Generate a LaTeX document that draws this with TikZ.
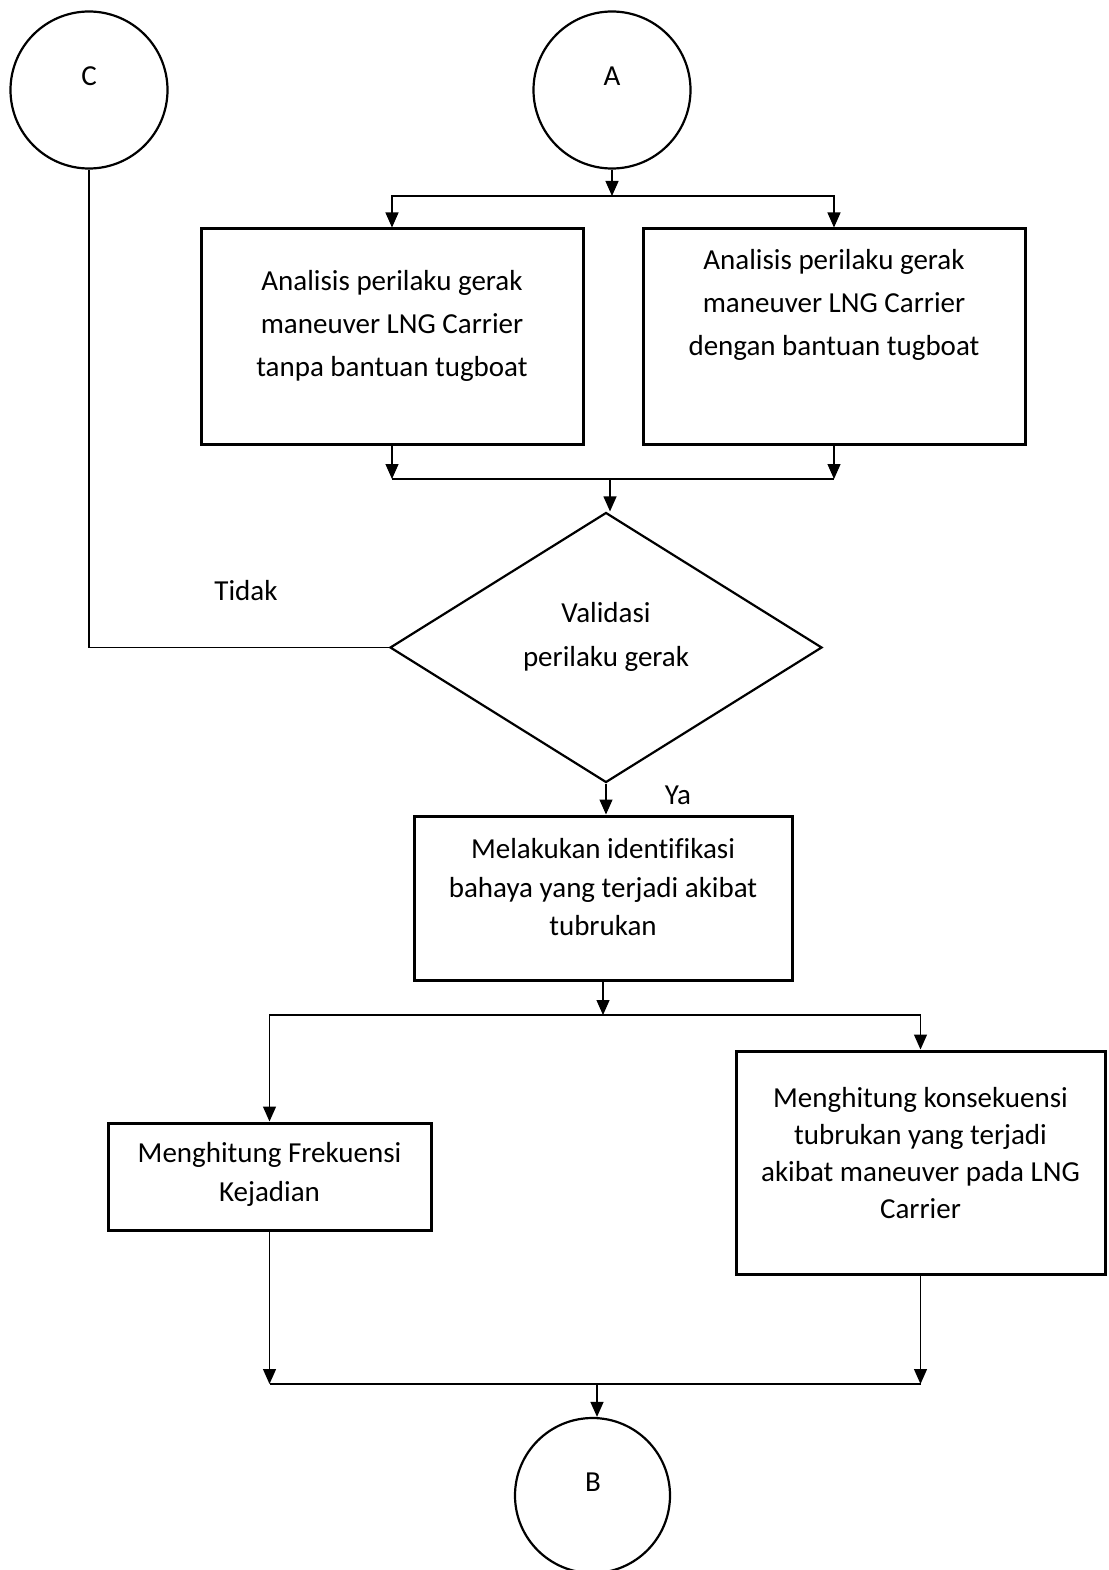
\documentclass[tikz,border=0pt]{standalone}
\usepackage{fontspec}
\setmainfont{Carlito}[Ligatures=NoCommon]
\usetikzlibrary{arrows.meta,positioning,shapes.geometric,calc}

\begin{document}
\begin{tikzpicture}[
  x=1pt, y=-1pt,
  box/.style={draw=black, line width=3pt, inner sep=0pt},
  conn/.style={circle, draw=black, line width=2.2pt, minimum size=157pt, inner sep=0pt},
  dec/.style={diamond, draw=black, line width=2.2pt, minimum width=432pt, minimum height=270pt, inner sep=0pt},
  txt/.style={align=center, font=\fontsize{29}{#1}\selectfont},
  txt/.default=43,
  ln/.style={line width=1.2pt, black},
  arr/.style={ln, -{Triangle[length=15pt, width=13pt]}}
]
\useasboundingbox (0,0) rectangle (1108,1570);

% connectors
\node[conn] (C) at (89,90) {};
\node[conn] (A) at (612,90) {};
\node[conn, minimum size=155pt] (B) at (592.5,1495.5) {};
\node[txt] (lC) at (89,76) {C};
\node[txt] (lA) at (612,76) {A};
\node[txt] (lB) at (593,1482) {B};

% analysis
\node[box, minimum width=382pt, minimum height=215pt] (T1) at (392,336.5) {};
\node[box, minimum width=382pt, minimum height=215pt] (T2) at (834,336.5) {};
\node[txt] (t1) at (392,326) {Analisis perilaku gerak\\maneuver LNG Carrier\\tanpa bantuan tugboat};
\node[txt] (t2) at (834,304.5) {Analisis perilaku gerak\\maneuver LNG Carrier\\dengan bantuan tugboat};

% validation
\node[dec] (V) at (606,647.5) {};
\node[txt=44] (v) at (606,637) {Validasi\\perilaku gerak};
\node[txt] (no) at (246,591) {Tidak};
\node[txt] (yes) at (678,795) {Ya};

% hazard, frequency, consequence
\node[box, minimum width=378pt, minimum height=164pt] (H) at (603,898) {};
\node[txt=38.5] (h) at (603,887.5) {Melakukan identifikasi\\bahaya yang terjadi akibat\\tubrukan};
\node[box, minimum width=323pt, minimum height=107pt] (F) at (269.5,1176.5) {};
\node[txt=39] (f) at (269.5,1174.5) {Menghitung Frekuensi\\Kejadian};
\node[box, minimum width=369pt, minimum height=223pt] (K) at (920.5,1162.5) {};
\node[txt=37] (k) at (920.5,1153) {Menghitung konsekuensi\\tubrukan yang terjadi\\akibat maneuver pada LNG\\Carrier};

\coordinate (jA) at (612,196);
\coordinate (jB) at (610,479);
\coordinate (jD) at (602,1015);
\coordinate (jE) at (597,1384);

\draw[arr] (A) -- (jA);
\draw[arr] (jA) -| (T1);
\draw[arr] (jA) -| (T2);
\draw[arr] (T1) -- (T1 |- jB);
\draw[arr] (T2) -- (T2 |- jB);
\draw[ln] (T1 |- jB) -- (T2 |- jB);
\draw[arr] (jB) -- (jB |- V.north);
\draw[ln] (V.west) -| (C);
\draw[arr] (V) -- (V |- H.north);
\draw[arr] (H) -- (H |- jD);
\draw[arr] (jD) -| (F);
\draw[arr] (jD) -| (K);
\draw[arr] (F) -- (F |- jE);
\draw[arr] (K) -- (K |- jE);
\draw[ln] (F |- jE) -- (K |- jE);
\draw[arr] (jE) -- (jE |- B.north);
\end{tikzpicture}
\end{document}
